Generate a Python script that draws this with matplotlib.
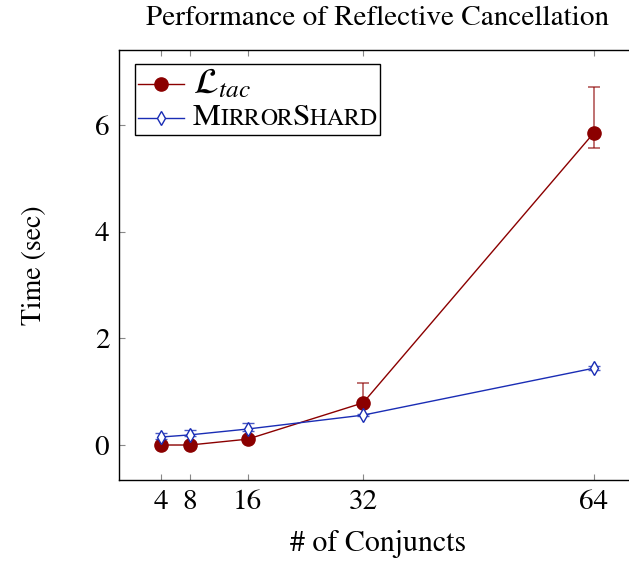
import matplotlib

matplotlib.use("Agg")
import matplotlib.pyplot as plt
from matplotlib.lines import Line2D
from matplotlib.offsetbox import (AnchoredOffsetbox, DrawingArea, HPacker,
                                  TextArea, VPacker)

plt.rcParams["font.family"] = "STIXGeneral"
plt.rcParams["mathtext.fontset"] = "stix"

CONJUNCTS = [4, 8, 16, 32, 64]

# L_tac timings (sec) with asymmetric error bars
LTAC_TIME = [0.0, 0.0, 0.11, 0.79, 5.85]
LTAC_ERR_LO = [0.0, 0.0, 0.0, 0.05, 0.28]
LTAC_ERR_HI = [0.0, 0.0, 0.0, 0.37, 0.87]

# MirrorShard timings (sec)
MS_TIME = [0.15, 0.19, 0.30, 0.56, 1.44]
MS_ERR_LO = [0.03, 0.03, 0.03, 0.02, 0.03]
MS_ERR_HI = [0.07, 0.09, 0.11, 0.03, 0.04]

Y_TICKS = [0, 2, 4, 6]

RED = "#8b0000"
BLUE = "#1a2db5"

fig = plt.figure(figsize=(6.29, 5.65), dpi=100)
ax = fig.add_axes([119 / 629, 85 / 565, 518 / 629, 430 / 565])

ax.errorbar(CONJUNCTS, LTAC_TIME, yerr=[LTAC_ERR_LO, LTAC_ERR_HI],
            color=RED, lw=1.0, marker="o", ms=9.5, mfc=RED, mec=RED,
            ecolor=(0.55, 0.0, 0.0, 0.6), elinewidth=1.3, capsize=4,
            capthick=1.3, zorder=3)
ax.errorbar(CONJUNCTS, MS_TIME, yerr=[MS_ERR_LO, MS_ERR_HI],
            color=BLUE, lw=1.0, marker="d", ms=7, mfc="white", mec=BLUE,
            mew=1.0, ecolor=(0.1, 0.18, 0.71, 0.8), elinewidth=1.1,
            capsize=4, capthick=1.1, zorder=4)

ax.set_xlim(-1.85, 70)
ax.set_ylim(-0.656, 7.406)
ax.set_xticks(CONJUNCTS)
ax.set_yticks(Y_TICKS)
ax.tick_params(direction="in", length=4.5, width=0.8, color="#888888",
               top=True, right=True, labelsize=21, pad=7)
for s in ax.spines.values():
    s.set_linewidth(1.0)

ax.set_title("Performance of Reflective Cancellation", fontsize=21, pad=18)
ax.set_xlabel("# of Conjuncts", fontsize=21.5, labelpad=11)
ax.set_ylabel("Time (sec)", fontsize=20, labelpad=34)


def handle(color, marker, ms, mfc):
    da = DrawingArea(33, 14, 0, 0)
    da.add_artist(Line2D([0, 33], [7, 7], color=color, lw=1.0))
    da.add_artist(Line2D([16.5], [7], color=color, marker=marker, ms=ms,
                         mfc=mfc, mec=color, mew=1.0))
    return da


def small_caps(word, big=22.5, small=17):
    parts = []
    for ch in word:
        size = big if ch.isupper() else small
        parts.append(TextArea(ch.upper(), textprops=dict(size=size)))
    return HPacker(children=parts, pad=0, sep=0, align="baseline")


row1 = HPacker(children=[handle(RED, "o", 9.5, RED),
                         TextArea(r"$\mathcal{L}_{tac}$",
                                  textprops=dict(size=26))],
               pad=0, sep=6, align="center")
row2 = HPacker(children=[handle(BLUE, "d", 7, "white"),
                         HPacker(children=[small_caps("Mirror"),
                                           small_caps("Shard")],
                                 pad=0, sep=0, align="baseline")],
               pad=0, sep=6, align="center")
box = VPacker(children=[row1, row2], pad=0, sep=2, align="left")
leg = AnchoredOffsetbox(loc="upper left", child=box, pad=0.25, borderpad=0,
                        frameon=True,
                        bbox_to_anchor=(16 / 518, 1 - 14 / 430),
                        bbox_transform=ax.transAxes)
leg.patch.set_edgecolor("black")
leg.patch.set_linewidth(1.0)
leg.patch.set_boxstyle("square", pad=0)
ax.add_artist(leg)

fig.savefig("out.png", dpi=100)
